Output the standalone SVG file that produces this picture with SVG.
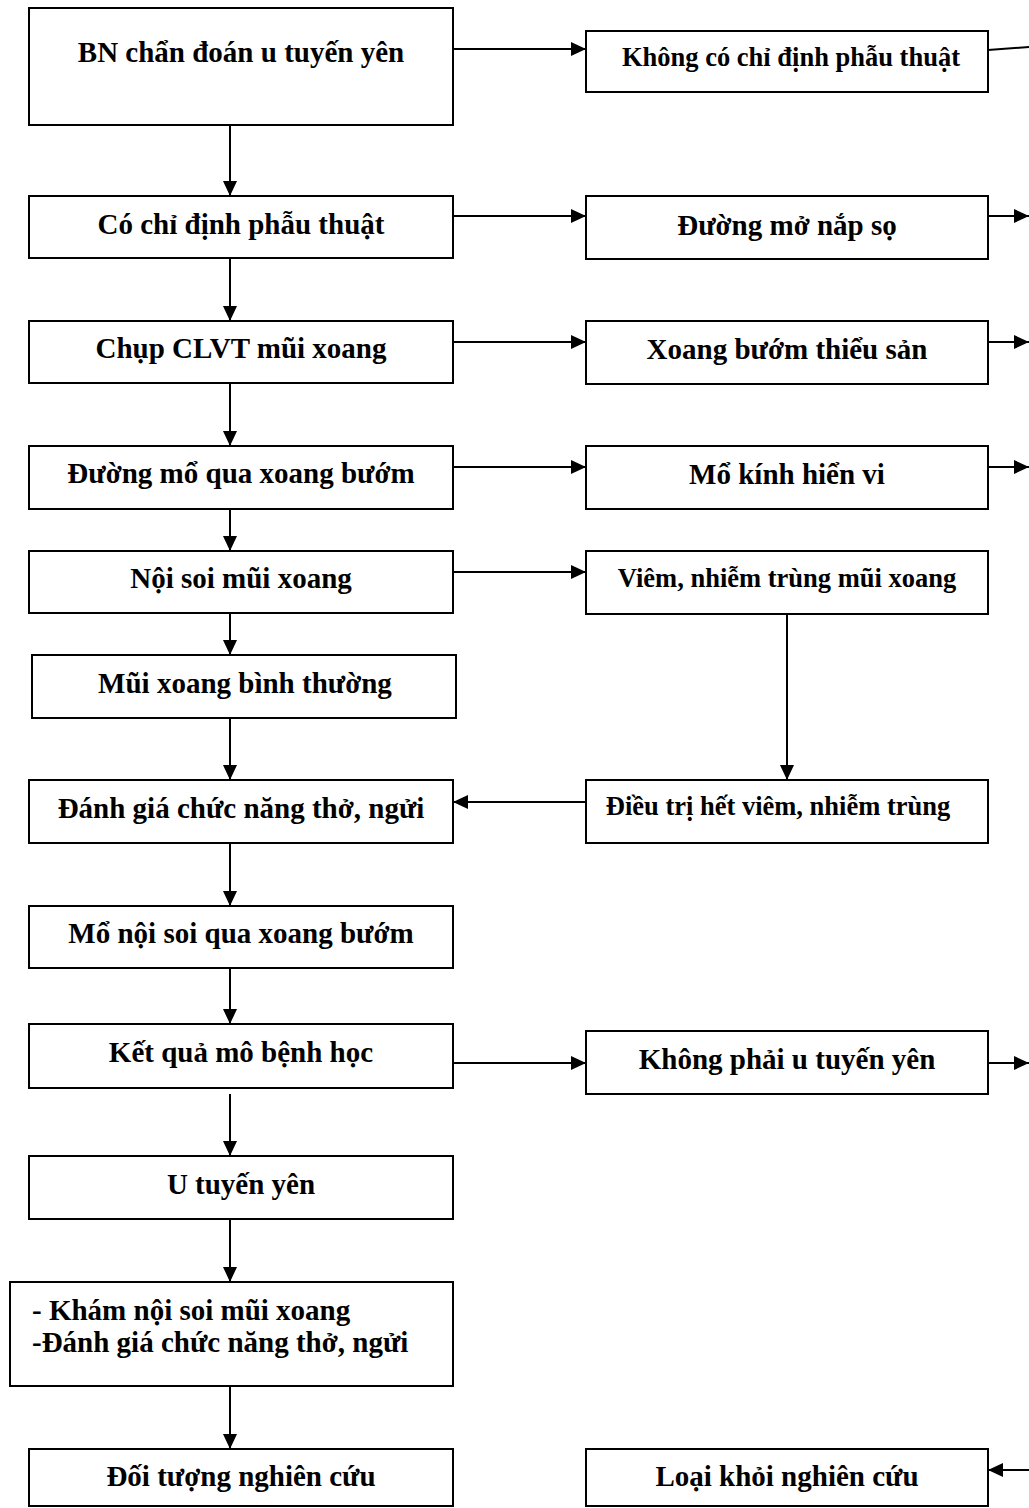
<svg xmlns="http://www.w3.org/2000/svg" width="1029" height="1508" viewBox="0 0 1029 1508">
<style>
.box{fill:#fff;stroke:#000;stroke-width:2}
.t{font-family:"Liberation Serif","Times New Roman",serif;font-weight:bold;font-size:29px;fill:#000;text-anchor:middle}
.s{font-size:26.5px}
.l{text-anchor:start}
.c{stroke:#000;stroke-width:2;fill:none}
.a{marker-end:url(#ah)}
</style>
<defs>
<marker id="ah" markerWidth="15" markerHeight="14" refX="15" refY="7" orient="auto" markerUnits="userSpaceOnUse">
<path d="M0,0 L15,7 L0,14 z" fill="#000"/>
</marker>
</defs>
<rect width="1029" height="1508" fill="#fff"/>
<g id="connectors">
<line class="c a" x1="230" y1="125" x2="230" y2="196"/>
<line class="c a" x1="230" y1="258" x2="230" y2="321"/>
<line class="c a" x1="230" y1="383" x2="230" y2="446"/>
<line class="c a" x1="230" y1="509" x2="230" y2="551"/>
<line class="c a" x1="230" y1="613" x2="230" y2="655"/>
<line class="c a" x1="230" y1="718" x2="230" y2="780"/>
<line class="c a" x1="230" y1="843" x2="230" y2="906"/>
<line class="c a" x1="230" y1="968" x2="230" y2="1024"/>
<line class="c a" x1="230" y1="1094" x2="230" y2="1156"/>
<line class="c a" x1="230" y1="1219" x2="230" y2="1282"/>
<line class="c a" x1="230" y1="1386" x2="230" y2="1449"/>
<line class="c a" x1="453" y1="49" x2="586" y2="49"/>
<line class="c a" x1="453" y1="216" x2="586" y2="216"/>
<line class="c a" x1="453" y1="342" x2="586" y2="342"/>
<line class="c a" x1="453" y1="467" x2="586" y2="467"/>
<line class="c a" x1="453" y1="572" x2="586" y2="572"/>
<line class="c a" x1="453" y1="1063" x2="586" y2="1063"/>
<line class="c" x1="988" y1="50" x2="1029" y2="47"/>
<line class="c a" x1="988" y1="216" x2="1029" y2="216"/>
<line class="c a" x1="988" y1="342" x2="1029" y2="342"/>
<line class="c a" x1="988" y1="467" x2="1029" y2="467"/>
<line class="c a" x1="988" y1="1063" x2="1029" y2="1063"/>
<line class="c a" x1="1029" y1="1470" x2="988" y2="1470"/>
<line class="c a" x1="787" y1="614" x2="787" y2="780"/>
<line class="c a" x1="586" y1="802" x2="453" y2="802"/>
</g>
<g id="n1"><rect class="box" x="29" y="8" width="424" height="117"/><text class="t" x="241" y="62">BN chẩn đoán u tuyến yên</text></g>
<g id="n2"><rect class="box" x="29" y="196" width="424" height="62"/><text class="t" x="241" y="234">Có chỉ định phẫu thuật</text></g>
<g id="n3"><rect class="box" x="29" y="321" width="424" height="62"/><text class="t" x="241" y="358">Chụp CLVT mũi xoang</text></g>
<g id="n4"><rect class="box" x="29" y="446" width="424" height="63"/><text class="t" x="241" y="483">Đường mổ qua xoang bướm</text></g>
<g id="n5"><rect class="box" x="29" y="551" width="424" height="62"/><text class="t" x="241" y="588">Nội soi mũi xoang</text></g>
<g id="n6"><rect class="box" x="32" y="655" width="424" height="63"/><text class="t" x="245" y="693">Mũi xoang bình thường</text></g>
<g id="n7"><rect class="box" x="29" y="780" width="424" height="63"/><text class="t" x="241" y="818">Đánh giá chức năng thở, ngửi</text></g>
<g id="n8"><rect class="box" x="29" y="906" width="424" height="62"/><text class="t" x="241" y="943">Mổ nội soi qua xoang bướm</text></g>
<g id="n9"><rect class="box" x="29" y="1024" width="424" height="64"/><text class="t" x="241" y="1062">Kết quả mô bệnh học</text></g>
<g id="n10"><rect class="box" x="29" y="1156" width="424" height="63"/><text class="t" x="241" y="1194">U tuyến yên</text></g>
<g id="n11"><rect class="box" x="10" y="1282" width="443" height="104"/><text class="t l" x="32" y="1320">- Khám nội soi mũi xoang</text><text class="t l" x="32" y="1352">-Đánh giá chức năng thở, ngửi</text></g>
<g id="n12"><rect class="box" x="29" y="1449" width="424" height="57"/><text class="t" x="241" y="1486">Đối tượng nghiên cứu</text></g>
<g id="r1"><rect class="box" x="586" y="31" width="402" height="61"/><text class="t s" x="791" y="66">Không có chỉ định phẫu thuật</text></g>
<g id="r2"><rect class="box" x="586" y="196" width="402" height="63"/><text class="t" x="787" y="235">Đường mở nắp sọ</text></g>
<g id="r3"><rect class="box" x="586" y="321" width="402" height="63"/><text class="t" x="787" y="359">Xoang bướm thiểu sản</text></g>
<g id="r4"><rect class="box" x="586" y="446" width="402" height="63"/><text class="t" x="787" y="484">Mổ kính hiển vi</text></g>
<g id="r5"><rect class="box" x="586" y="551" width="402" height="63"/><text class="t s" x="787" y="587">Viêm, nhiễm trùng mũi xoang</text></g>
<g id="r6"><rect class="box" x="586" y="780" width="402" height="63"/><text class="t s" x="778" y="815">Điều trị hết viêm, nhiễm trùng</text></g>
<g id="r7"><rect class="box" x="586" y="1031" width="402" height="63"/><text class="t" x="787" y="1069">Không phải u tuyến yên</text></g>
<g id="r8"><rect class="box" x="586" y="1449" width="402" height="57"/><text class="t" x="787" y="1486">Loại khỏi nghiên cứu</text></g>
</svg>
